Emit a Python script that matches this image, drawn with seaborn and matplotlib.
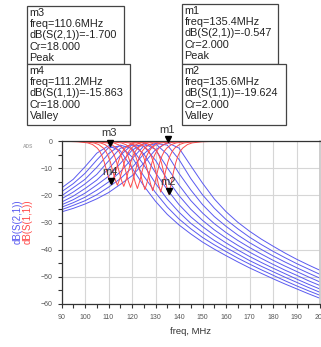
import pandas as pd
import matplotlib
matplotlib.use("Agg")
import matplotlib.pyplot as plt
import matplotlib.transforms as mtransforms
from matplotlib.patches import Rectangle
import seaborn as sns

# tuning capacitor values, one trace pair per value
cr_values = [2, 4, 6, 8, 10, 12, 14, 16, 18]

# dB(S(2,1)) on a 5 MHz grid
freq_mhz = [90, 95, 100, 105, 110, 115, 120, 125, 130, 135, 140, 145,
            150, 155, 160, 165, 170, 175, 180, 185, 190, 195, 200]
s21_cr02 = [-26.1, -24.8, -23.2, -21.3, -19.0, -16.0, -12.8, -8.2, -3.2, -0.6, -2.6, -9.1,
            -15.5, -21.3, -26.0, -29.9, -33.2, -36.1, -38.7, -41.2, -43.5, -45.6, -47.6]
s21_cr04 = [-25.3, -23.7, -22.0, -19.8, -17.0, -13.9, -9.8, -4.8, -0.9, -1.5, -6.8, -13.8,
            -19.8, -24.7, -28.9, -32.3, -35.4, -38.1, -40.6, -42.9, -45.1, -47.1, -49.1]
s21_cr06 = [-24.4, -22.7, -20.7, -18.1, -15.1, -11.4, -6.5, -1.9, -1.0, -4.9, -11.9, -18.0,
            -23.4, -27.8, -31.4, -34.6, -37.4, -39.9, -42.3, -44.5, -46.6, -48.6, -50.5]
s21_cr08 = [-23.5, -21.6, -19.2, -16.2, -13.0, -8.3, -3.4, -0.9, -3.1, -9.8, -16.2, -21.9,
            -26.5, -30.4, -33.7, -36.6, -39.2, -41.6, -43.9, -46.0, -48.0, -50.0, -51.9]
s21_cr10 = [-22.5, -20.3, -17.5, -14.4, -10.3, -5.3, -1.4, -1.9, -7.1, -14.1, -20.1, -25.1,
            -29.2, -32.7, -35.7, -38.4, -40.9, -43.2, -45.4, -47.5, -49.4, -51.4, -53.2]
s21_cr12 = [-21.3, -18.8, -15.8, -12.3, -7.4, -2.7, -1.3, -4.7, -11.7, -17.9, -23.4, -27.9,
            -31.5, -34.7, -37.5, -40.1, -42.5, -44.7, -46.8, -48.8, -50.8, -52.7, -54.5]
s21_cr14 = [-20.2, -17.2, -14.1, -9.7, -4.7, -1.5, -2.8, -8.8, -15.6, -21.4, -26.2, -30.3,
            -33.6, -36.6, -39.2, -41.6, -44.0, -46.1, -48.1, -50.1, -52.0, -53.9, -55.7]
s21_cr16 = [-18.7, -15.7, -11.9, -7.0, -2.5, -1.8, -5.9, -12.9, -19.0, -24.3, -28.7, -32.3,
            -35.5, -38.2, -40.7, -43.1, -45.3, -47.4, -49.4, -51.4, -53.3, -55.1, -56.8]
s21_cr18 = [-17.3, -14.1, -9.5, -4.5, -1.75, -3.6, -9.9, -16.5, -22.2, -27.0, -30.9, -34.2,
            -37.2, -39.8, -42.2, -44.5, -46.7, -48.7, -50.7, -52.6, -54.4, -56.2, -57.9]

# dB(S(1,1)) read around each valley (offset in MHz from the valley)
s11_offset = [-20, -14, -10, -8, -6, -5, -4, -3, -2, -1, 0, 1, 2, 3, 4, 5, 6, 8, 10, 14, 20]
s11_dip_freq = [135.6, 132.2, 128.8, 125.5, 122.3, 119.4, 116.5, 113.8, 111.2]
s11_edge_db = -0.05
s11_cr02 = [-0.1, -0.3, -0.7, -1.4, -2.8, -3.9, -5.6, -8.2, -11.8, -16.2, -19.6, -16.0, -11.6, -8.0, -5.4, -3.7, -2.6, -1.3, -0.7, -0.3, -0.1]
s11_cr04 = [-0.1, -0.3, -0.7, -1.4, -2.8, -3.9, -5.6, -8.1, -11.7, -15.8, -18.8, -15.6, -11.5, -7.9, -5.4, -3.7, -2.6, -1.3, -0.7, -0.3, -0.1]
s11_cr06 = [-0.1, -0.3, -0.7, -1.4, -2.8, -3.9, -5.6, -8.1, -11.6, -15.5, -18.3, -15.3, -11.4, -7.9, -5.4, -3.7, -2.6, -1.3, -0.7, -0.3, -0.1]
s11_cr08 = [-0.1, -0.3, -0.7, -1.4, -2.7, -3.8, -5.5, -8.0, -11.5, -15.2, -17.9, -15.0, -11.3, -7.9, -5.4, -3.7, -2.6, -1.3, -0.7, -0.3, -0.1]
s11_cr10 = [-0.1, -0.3, -0.7, -1.4, -2.7, -3.8, -5.5, -8.0, -11.4, -15.0, -17.5, -14.8, -11.2, -7.8, -5.4, -3.7, -2.6, -1.3, -0.7, -0.3, -0.1]
s11_cr12 = [-0.1, -0.3, -0.7, -1.3, -2.7, -3.8, -5.5, -7.9, -11.3, -14.7, -17.1, -14.5, -11.1, -7.8, -5.3, -3.7, -2.6, -1.3, -0.7, -0.3, -0.1]
s11_cr14 = [-0.1, -0.3, -0.7, -1.3, -2.7, -3.8, -5.4, -7.9, -11.2, -14.4, -16.7, -14.2, -11.0, -7.7, -5.3, -3.7, -2.6, -1.3, -0.7, -0.3, -0.1]
s11_cr16 = [-0.1, -0.3, -0.7, -1.3, -2.6, -3.7, -5.4, -7.8, -11.1, -14.1, -16.3, -13.9, -10.9, -7.7, -5.3, -3.6, -2.5, -1.3, -0.7, -0.3, -0.1]
s11_cr18 = [-0.1, -0.3, -0.7, -1.3, -2.6, -3.7, -5.4, -7.8, -11.0, -13.8, -15.9, -13.6, -10.8, -7.6, -5.2, -3.6, -2.5, -1.3, -0.7, -0.3, -0.1]

# ADS markers
marker_names = ["m1", "m2", "m3", "m4"]
marker_freq = [135.4, 135.6, 110.6, 111.2]
marker_db = [-0.547, -19.624, -1.700, -15.863]
marker_cr = [2, 2, 18, 18]
marker_trace = ["dB(S(2,1))", "dB(S(1,1))", "dB(S(2,1))", "dB(S(1,1))"]
marker_kind = ["Peak", "Valley", "Peak", "Valley"]

s21_all = [s21_cr02, s21_cr04, s21_cr06, s21_cr08, s21_cr10, s21_cr12, s21_cr14, s21_cr16, s21_cr18]
s11_all = [s11_cr02, s11_cr04, s11_cr06, s11_cr08, s11_cr10, s11_cr12, s11_cr14, s11_cr16, s11_cr18]

rows = []
for cr, vals in zip(cr_values, s21_all):
    for f, v in zip(freq_mhz, vals):
        rows.append({"cr": cr, "freq": f, "db": v})
df21 = pd.DataFrame(rows)

rows = []
for cr, dip, vals in zip(cr_values, s11_dip_freq, s11_all):
    rows.append({"cr": cr, "freq": freq_mhz[0], "db": s11_edge_db})
    for o, v in zip(s11_offset, vals):
        rows.append({"cr": cr, "freq": dip + o, "db": v})
    rows.append({"cr": cr, "freq": freq_mhz[-1], "db": s11_edge_db})
df11 = pd.DataFrame(rows)

sns.set_theme(style="white")
plt.rcParams["font.family"] = ["Liberation Sans", "DejaVu Sans"]

W, H = 321, 347
fig = plt.figure(figsize=(W / 100, H / 100), dpi=100)
ax = fig.add_axes([61.5 / W, 43 / H, 258.5 / W, 163 / H])

blue = "#5a5af0"
red = "#ff4a4a"
sns.lineplot(data=df21, x="freq", y="db", units="cr", estimator=None, sort=False,
             color=blue, lw=0.7, ax=ax)
sns.lineplot(data=df11, x="freq", y="db", units="cr", estimator=None, sort=False,
             color=red, lw=0.7, ax=ax)

ax.set_xlim(90, 200)
ax.set_ylim(-60, 0)
ax.set_xticks(range(90, 201, 10))
ax.set_xticks(range(95, 200, 10), minor=True)
ax.set_yticks(range(-60, 1, 10))
ax.set_yticks(range(-55, 0, 10), minor=True)
ax.grid(which="major", color="#d6d6d6", lw=0.8)
ax.tick_params(which="both", direction="out", length=3, width=0.8, color="#333333",
               labelsize=5, labelcolor="#555555")
ax.tick_params(axis="x", which="both", bottom=True, pad=4.5)
ax.tick_params(axis="y", which="both", left=True, pad=3.5)
ax.set_xlabel("")
ax.set_ylabel("")
for side in ["left", "bottom", "top"]:
    ax.spines[side].set_color("#333333")
    ax.spines[side].set_linewidth(0.9)
ax.spines["right"].set_color("#c8c8c8")

# marker triangles (tip on the point) and their names
tri = mtransforms.offset_copy(ax.transData, fig=fig, x=0, y=3, units="dots")
ax.plot(marker_freq, marker_db, linestyle="none", marker="v", ms=5, color="black",
        transform=tri, clip_on=False, zorder=5)
for name, f, v in zip(marker_names, marker_freq, marker_db):
    ax.annotate(name, (f, v), xytext=(-1, 12.5), textcoords="offset pixels",
                ha="center", va="center", fontsize=8, color="#333333", zorder=6)

# marker readout boxes (pixel layout)
boxes = {"m3": (27, 6, 124, 64), "m4": (27, 64, 130, 125),
         "m1": (182, 4, 278, 64), "m2": (182, 64, 286, 125)}
for name, f, v, cr, trace, kind in zip(marker_names, marker_freq, marker_db,
                                       marker_cr, marker_trace, marker_kind):
    x0, y0, x1, y1 = boxes[name]
    fig.patches.append(Rectangle((x0 / W, 1 - y1 / H), (x1 - x0) / W, (y1 - y0) / H,
                                 transform=fig.transFigure, facecolor="white",
                                 edgecolor="#444444", lw=0.9))
    lines = [name, f"freq={f:.1f}MHz", f"{trace}={v:.3f}", f"Cr={cr:.3f}", kind]
    for i, line in enumerate(lines):
        fig.text((x0 + 2.5) / W, 1 - (y0 + 7 + i * 11.2) / H, line, ha="left",
                 va="center", fontsize=7.8, color="#222222")

fig.text(18 / W, 1 - 222 / H, "dB(S(2,1))", rotation=90, ha="center", va="center",
         fontsize=7, color=blue)
fig.text(28 / W, 1 - 222 / H, "dB(S(1,1))", rotation=90, ha="center", va="center",
         fontsize=7, color=red)
fig.text(191 / W, 1 - 331 / H, "freq, MHz", ha="center", va="center", fontsize=6.8,
         color="#333333")
fig.text(28 / W, 1 - 147 / H, "ADS", ha="center", va="center", fontsize=3.5,
         color="#aaaaaa", fontweight="bold")

fig.savefig("out.png", dpi=100)
